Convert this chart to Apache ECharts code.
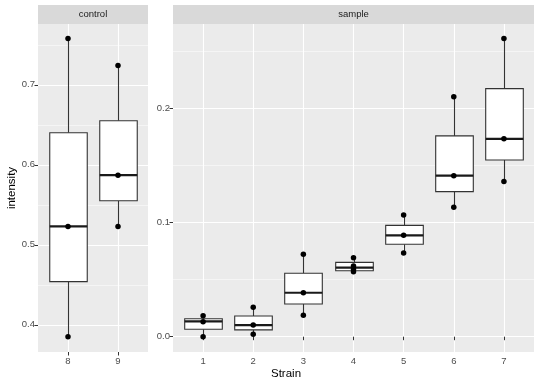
<!DOCTYPE html>
<html>
<head>
<meta charset="utf-8">
<script src="https://cdn.jsdelivr.net/npm/echarts@6/dist/echarts.min.js"></script>
<style>html,body{margin:0;padding:0;background:#fff;}#c{width:540px;height:386px;}</style>
</head>
<body>
<div id="c"></div>
<script>
// ---- data ----
var facetNames = ['control', 'sample'];
var controlStrains = [8, 9];
var controlMin = [0.385, 0.523];
var controlQ1 = [0.454, 0.555];
var controlMedian = [0.523, 0.587];
var controlQ3 = [0.640, 0.655];
var controlMax = [0.758, 0.724];
var controlPointX = [8, 8, 8, 9, 9, 9];
var controlPointY = [0.385, 0.523, 0.758, 0.523, 0.587, 0.724];

var sampleStrains = [1, 2, 3, 4, 5, 6, 7];
var sampleMin = [0.0, 0.0021, 0.0187, 0.0569, 0.0733, 0.1133, 0.136];
var sampleQ1 = [0.0065, 0.0060, 0.0286, 0.0578, 0.0810, 0.1270, 0.1547];
var sampleMedian = [0.0135, 0.0102, 0.0385, 0.0604, 0.0888, 0.1410, 0.1733];
var sampleQ3 = [0.0157, 0.0181, 0.0555, 0.0651, 0.0975, 0.1758, 0.2172];
var sampleMax = [0.0184, 0.0257, 0.0721, 0.0692, 0.1066, 0.2102, 0.2610];
var samplePointX = [1, 1, 1, 2, 2, 2, 3, 3, 3, 4, 4, 4, 4, 5, 5, 5, 6, 6, 6, 7, 7, 7];
var samplePointY = [0.0, 0.013, 0.0184, 0.0021, 0.0102, 0.0257, 0.0187, 0.0385, 0.0721,
  0.0569, 0.0593, 0.0619, 0.0692, 0.0733, 0.0888, 0.1066, 0.1133, 0.141, 0.2102, 0.136, 0.1733, 0.261];

var controlYTicks = [0.4, 0.5, 0.6, 0.7];
var sampleYTicks = [0.0, 0.1, 0.2];
var xTitle = 'Strain';
var yTitle = 'intensity';

// ---- build ----
(function () {
function boxRows(x, mn, q1, md, q3, mx) {
  return x.map(function (v, i) { return [v, mn[i], q1[i], md[i], q3[i], mx[i]]; });
}
function pts(x, y) { return x.map(function (v, i) { return [v, y[i]]; }); }

var FONT = 'Liberation Sans, Arial, sans-serif';
var ink = '#333333';

function renderBox(params, api) {
  var x = api.value(0);
  var lo = api.coord([x, api.value(1)]);
  var q1 = api.coord([x, api.value(2)]);
  var md = api.coord([x, api.value(3)]);
  var q3 = api.coord([x, api.value(4)]);
  var hi = api.coord([x, api.value(5)]);
  var w = api.size([0.75, 0])[0];
  var cx = Math.round(lo[0]) + 0.5;
  return {
    type: 'group',
    children: [
      { type: 'line', shape: { x1: cx, y1: lo[1], x2: cx, y2: q1[1] }, style: { stroke: ink, lineWidth: 1.1 } },
      { type: 'line', shape: { x1: cx, y1: hi[1], x2: cx, y2: q3[1] }, style: { stroke: ink, lineWidth: 1.1 } },
      { type: 'rect', shape: { x: cx - w / 2, y: q3[1], width: w, height: q1[1] - q3[1] },
        style: { fill: '#ffffff', stroke: ink, lineWidth: 1.1 } },
      { type: 'line', shape: { x1: cx - w / 2, y1: md[1], x2: cx + w / 2, y2: md[1] },
        style: { stroke: '#1a1a1a', lineWidth: 2.2 } }
    ]
  };
}

function xAxisDef(idx, mn, mx, ticks) {
  return {
    type: 'value', gridIndex: idx, min: mn, max: mx,
    splitNumber: ticks.length, minInterval: 1,
    axisLine: { show: false },
    axisTick: { show: true, length: 3.5, lineStyle: { color: ink, width: 1 }, customValues: ticks },
    axisLabel: { color: '#4d4d4d', fontSize: 9.5, fontFamily: FONT, margin: 4, customValues: ticks },
    splitLine: { show: true, lineStyle: { color: '#ffffff', width: 1.1 } },
    minorSplitLine: { show: false }
  };
}
function yAxisDef(idx, mn, mx, ticks, split) {
  return {
    type: 'value', gridIndex: idx, min: mn, max: mx, splitNumber: split,
    axisLine: { show: false },
    axisTick: { show: true, length: 3.5, lineStyle: { color: ink, width: 1 }, customValues: ticks },
    axisLabel: { color: '#4d4d4d', fontSize: 9.5, fontFamily: FONT, margin: 3, customValues: ticks,
      formatter: function (v) { return v.toFixed(1); } },
    splitLine: { show: true, lineStyle: { color: '#ffffff', width: 1.1 } },
    minorTick: { show: false, splitNumber: 2 },
    minorSplitLine: { show: true, lineStyle: { color: '#ffffff', width: 0.5 } }
  };
}

var P = [[38, 148], [173, 534]];
var pTop = 24, pBottom = 352, stripTop = 5;

var chart = echarts.init(document.getElementById('c'), null, { renderer: 'canvas' });
var option = {
  backgroundColor: '#ffffff',
  animation: false,
  grid: [
    { left: P[0][0], width: P[0][1] - P[0][0], top: pTop, height: pBottom - pTop, show: true,
      backgroundColor: '#ebebeb', borderWidth: 0, containLabel: false },
    { left: P[1][0], width: P[1][1] - P[1][0], top: pTop, height: pBottom - pTop, show: true,
      backgroundColor: '#ebebeb', borderWidth: 0, containLabel: false }
  ],
  xAxis: [
    xAxisDef(0, controlStrains[0] - 0.6, controlStrains[controlStrains.length - 1] + 0.6, controlStrains),
    xAxisDef(1, sampleStrains[0] - 0.6, sampleStrains[sampleStrains.length - 1] + 0.6, sampleStrains)
  ],
  yAxis: [
    yAxisDef(0, 0.366, 0.776, controlYTicks, 4),
    yAxisDef(1, -0.0134, 0.2738, sampleYTicks, 3)
  ],
  series: [
    { type: 'custom', xAxisIndex: 0, yAxisIndex: 0, renderItem: renderBox,
      data: boxRows(controlStrains, controlMin, controlQ1, controlMedian, controlQ3, controlMax), z: 2 },
    { type: 'custom', xAxisIndex: 1, yAxisIndex: 1, renderItem: renderBox,
      data: boxRows(sampleStrains, sampleMin, sampleQ1, sampleMedian, sampleQ3, sampleMax), z: 2 },
    { type: 'scatter', xAxisIndex: 0, yAxisIndex: 0, symbol: 'circle', symbolSize: 5.5,
      itemStyle: { color: '#000000', opacity: 1 }, data: pts(controlPointX, controlPointY), z: 3 },
    { type: 'scatter', xAxisIndex: 1, yAxisIndex: 1, symbol: 'circle', symbolSize: 5.5,
      itemStyle: { color: '#000000', opacity: 1 }, data: pts(samplePointX, samplePointY), z: 3 }
  ],
  graphic: [
    { type: 'rect', shape: { x: P[0][0], y: stripTop, width: P[0][1] - P[0][0], height: pTop - stripTop },
      style: { fill: '#d9d9d9' }, silent: true },
    { type: 'rect', shape: { x: P[1][0], y: stripTop, width: P[1][1] - P[1][0], height: pTop - stripTop },
      style: { fill: '#d9d9d9' }, silent: true },
    { type: 'text', x: (P[0][0] + P[0][1]) / 2, y: (stripTop + pTop) / 2,
      style: { text: facetNames[0], fill: '#1a1a1a', font: '9.5px ' + FONT, align: 'center', verticalAlign: 'middle' } },
    { type: 'text', x: (P[1][0] + P[1][1]) / 2, y: (stripTop + pTop) / 2,
      style: { text: facetNames[1], fill: '#1a1a1a', font: '9.5px ' + FONT, align: 'center', verticalAlign: 'middle' } },
    { type: 'text', x: (P[0][0] + P[1][1]) / 2, y: 374,
      style: { text: xTitle, fill: '#000000', font: '11.5px ' + FONT, align: 'center', verticalAlign: 'middle' } },
    { type: 'text', x: 12, y: (pTop + pBottom) / 2, rotation: Math.PI / 2,
      style: { text: yTitle, fill: '#000000', font: '11.5px ' + FONT, align: 'center', verticalAlign: 'middle' } }
  ]
};
chart.setOption(option);
})();
</script>
</body>
</html>
